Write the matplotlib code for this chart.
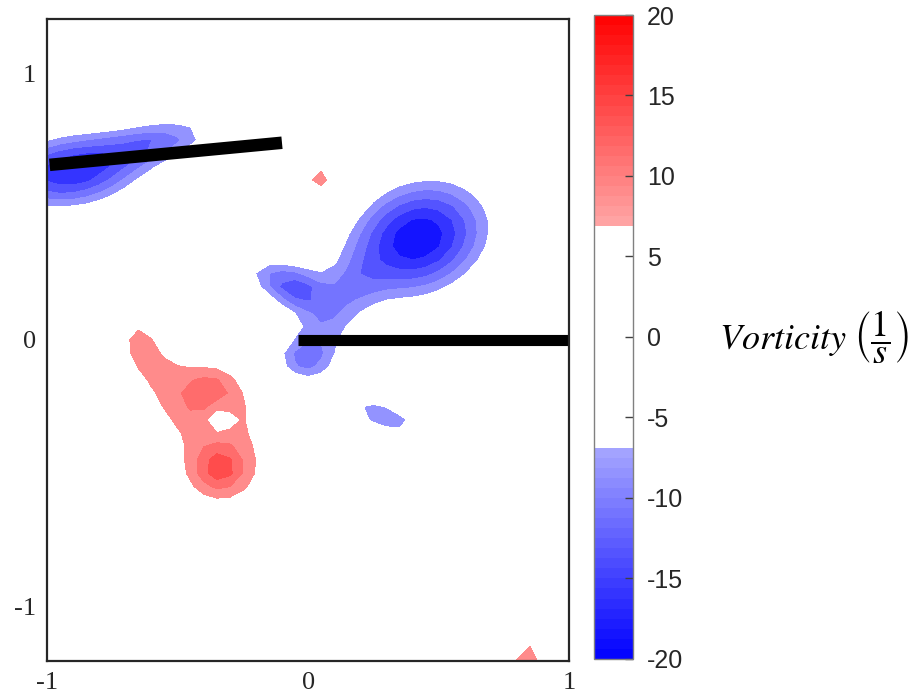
"""
Vorticity contour map with two plates, MATLAB-style blue-white-red colorbar.
"""

import matplotlib
matplotlib.use("Agg")
import matplotlib.pyplot as plt
import numpy as np
from matplotlib.colors import ListedColormap, Normalize
from matplotlib.cm import ScalarMappable

# ── Data: vortex patches ─────────────────────────────────────────────────────
# centre x, centre y, peak vorticity (1/s), half-widths, tilt (deg)
# negative (clockwise) patches
neg_x   = [-0.92, -0.56,  0.42,  0.07,  0.20, -0.13, -0.04, -0.02,  0.295]
neg_y   = [ 0.63,  0.75,  0.38,  0.10,  0.22,  0.23,  0.19, -0.08, -0.29]
neg_amp = [-17.0, -10.0, -19.9, -8.5,  -3.0,  -9.5,  -5.0, -11.0, -10.0]
neg_sx  = [0.20, 0.17, 0.20, 0.10, 0.07, 0.10, 0.06, 0.10, 0.13]
neg_sy  = [0.10, 0.065, 0.15, 0.10, 0.07, 0.065, 0.05, 0.07, 0.05]
neg_deg = [5, 10, 20, 45, 30, -20, 0, 0, -20]

# positive (counter-clockwise) patches
pos_x   = [-0.65, -0.60, -0.43, -0.33, -0.365, -0.34, -0.34,  0.05,  0.84]
pos_y   = [ 0.01, -0.08, -0.19, -0.47, -0.17, -0.485, -0.30,  0.60, -1.21]
pos_amp = [ 7.6,   4.5,   8.5,   9.0,   2.0,   5.5,  -6.0,   9.0,  9.5]
pos_sx  = [0.05, 0.07, 0.19, 0.18, 0.06, 0.06, 0.035, 0.08, 0.06]
pos_sy  = [0.06, 0.06, 0.11, 0.16, 0.05, 0.055, 0.035, 0.08, 0.09]
pos_deg = [-30, 0, 0, 0, 0, 0, 0, 0, 0]

# plates (black bars)
plate1_x = [-0.99, -0.10]
plate1_y = [0.657, 0.74]
plate2_x = [-0.04, 1.0]
plate2_y = [0.0, 0.0]

levels = np.arange(-20, 20.1, 2.5)
cbar_ticks = np.arange(-20, 21, 5)
vmin, vmax = -20, 20
white_band = 6.6

# ── Field on a coarse PIV-like grid ──────────────────────────────────────────
gx = np.linspace(-1.0, 1.0, 41)
gy = np.linspace(-1.2, 1.2, 49)
X, Y = np.meshgrid(gx, gy)
W = np.zeros_like(X)
blobs = zip(neg_x + pos_x, neg_y + pos_y, neg_amp + pos_amp,
            neg_sx + pos_sx, neg_sy + pos_sy, neg_deg + pos_deg)
for cx, cy, a, sx, sy, d in blobs:
    t = np.deg2rad(d)
    u = (X - cx) * np.cos(t) + (Y - cy) * np.sin(t)
    v = -(X - cx) * np.sin(t) + (Y - cy) * np.cos(t)
    W += a * np.exp(-0.5 * ((u / sx) ** 2 + (v / sy) ** 2))
W = np.clip(W, vmin + 0.01, vmax - 0.01)

# ── Colormap: linear blue-white-red, white for |w| < white_band ─────────────
n = 64
centres = vmin + (np.arange(n) + 0.5) * (vmax - vmin) / n
cols = np.ones((n, 3))
for i, c in enumerate(centres):
    f = abs(c) / vmax
    if abs(c) < white_band:
        continue
    if c < 0:
        cols[i] = [1 - f, 1 - f, 1]
    else:
        cols[i] = [1, 1 - f, 1 - f]
cmap = ListedColormap(cols)
norm = Normalize(vmin=vmin, vmax=vmax)

# ── Plot ─────────────────────────────────────────────────────────────────────
plt.rcParams["mathtext.fontset"] = "stix"
fig = plt.figure(figsize=(9.15, 6.98), dpi=100)
ax = fig.add_axes([0.0514, 0.053, 0.5706, 0.920])
ax.contourf(X, Y, W, levels=levels, cmap=cmap, norm=norm)
ax.plot(plate1_x, plate1_y, color="black", lw=9, solid_capstyle="butt")
ax.plot(plate2_x, plate2_y, color="black", lw=8, solid_capstyle="butt")
ax.set_xlim(-1, 1)
ax.set_ylim(-1.205, 1.205)
ax.set_xticks([-1, 0, 1])
ax.set_yticks([-1, 0, 1])
ax.set_xticklabels(["-1", "0", "1"])
ax.set_yticklabels(["-1", "0", "1"])
ax.tick_params(length=0, pad=8, labelsize=19, labelcolor="#262626")
for lab in ax.get_xticklabels() + ax.get_yticklabels():
    lab.set_family("Liberation Serif")
for s in ax.spines.values():
    s.set_linewidth(1.6)
    s.set_color("#262626")

cax = fig.add_axes([0.649, 0.056, 0.043, 0.9225])
cb = fig.colorbar(ScalarMappable(norm=norm, cmap=cmap), cax=cax, ticks=cbar_ticks)
cb.outline.set_edgecolor("#808080")
cb.outline.set_linewidth(1.0)
cax.tick_params(direction="in", length=6, width=1, color="#404040",
                labelsize=18, labelcolor="#262626", pad=10)
cax.set_yticklabels([str(t) for t in cbar_ticks])
for lab in cax.get_yticklabels():
    lab.set_family("Liberation Sans")

fig.text(0.786, 0.517, r"$Vorticity\ \left(\dfrac{1}{s}\right)$",
         fontsize=26, ha="left", va="center", color="black")

fig.savefig("out.png", dpi=100)
